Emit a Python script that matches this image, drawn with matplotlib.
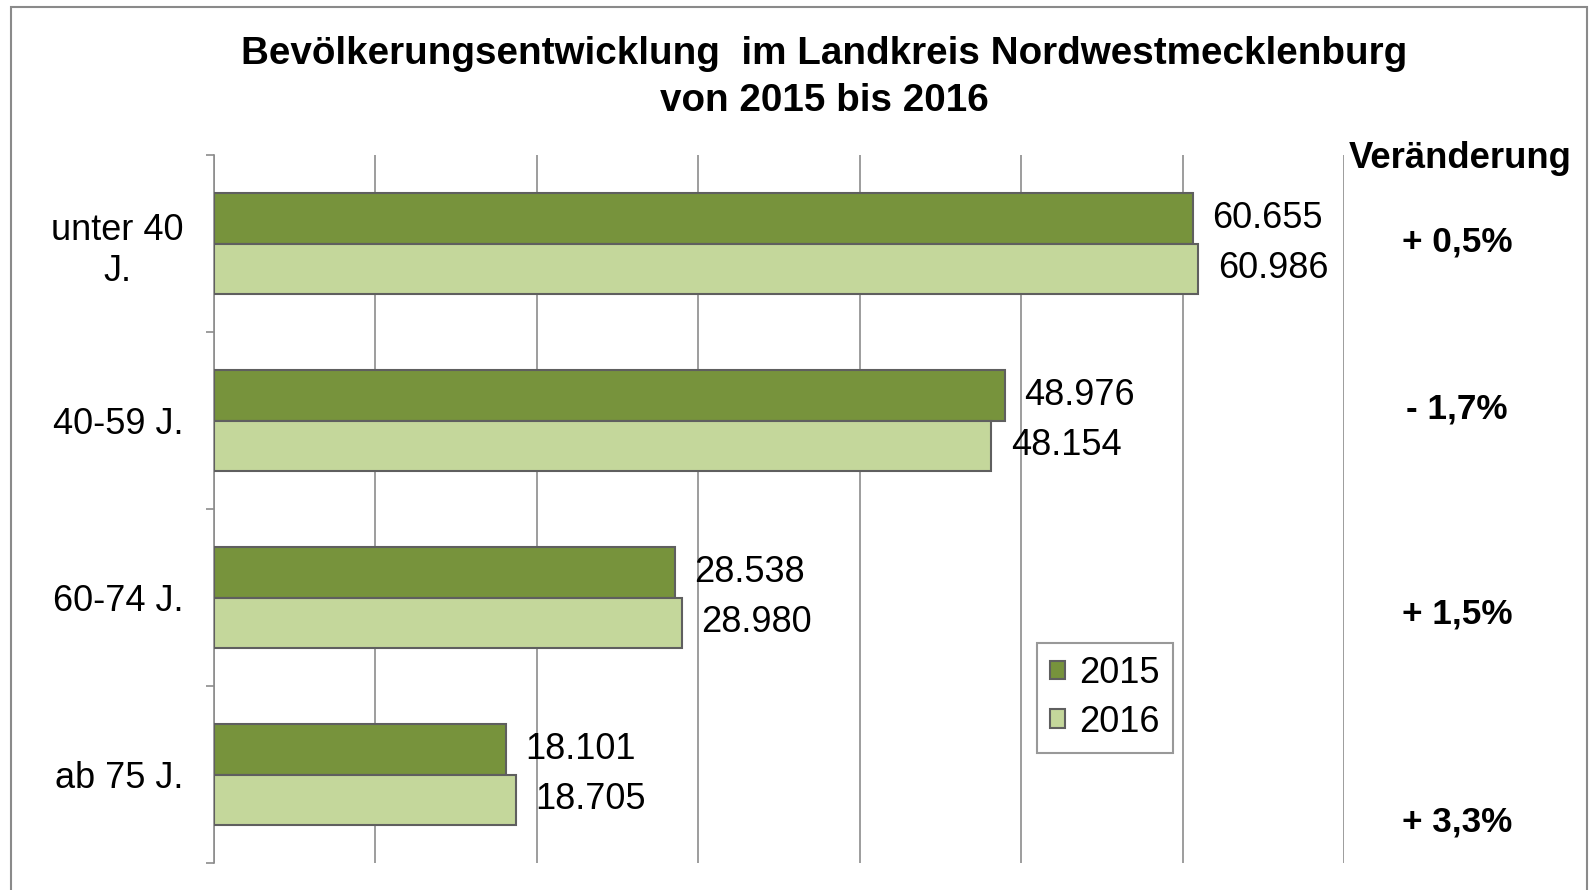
import matplotlib
matplotlib.use("Agg")
import matplotlib.pyplot as plt
from matplotlib.patches import Rectangle
import numpy as np

# ---- data ----
categories = ["unter 40\nJ.", "40-59 J.", "60-74 J.", "ab 75 J."]
series_names = ["2015", "2016"]
values_2015 = [60655, 48976, 28538, 18101]
values_2016 = [60986, 48154, 28980, 18705]
labels_2015 = ["60.655", "48.976", "28.538", "18.101"]
labels_2016 = ["60.986", "48.154", "28.980", "18.705"]
changes = ["+ 0,5%", "- 1,7%", "+ 1,5%", "+ 3,3%"]
title_lines = ["Bevölkerungsentwicklung  im Landkreis Nordwestmecklenburg",
               "von 2015 bis 2016"]
change_header = "Veränderung"

# ---- style ----
W, H = 1590, 890
plt.rcParams['font.family'] = ['Liberation Sans', 'DejaVu Sans']
bold_family = ['Liberation Sans', 'DejaVu Sans']
c2015 = "#77933C"
c2016 = "#C4D79B"
edge = "#5f5f5f"
grid_c = "#8c8c8c"

fig = plt.figure(figsize=(W / 100, H / 100), dpi=100)
fig.patch.set_facecolor("white")

# outer frame
fig.patches.append(Rectangle((11 / W, -0.02), (1587 - 11) / W, 1.02 - 7 / H,
                             transform=fig.transFigure, fill=False,
                             edgecolor="#8a8a8a", linewidth=1.5))

ax_l, ax_r, ax_t, ax_b = 214, 1344, 155, 863
ax = fig.add_axes([ax_l / W, 1 - ax_b / H, (ax_r - ax_l) / W, (ax_b - ax_t) / H])

y = np.arange(len(categories))
h = 0.287
ax.barh(y - h / 2, values_2015, height=h, color=c2015, edgecolor=edge,
        linewidth=1.5, label=series_names[0], zorder=3)
ax.barh(y + h / 2, values_2016, height=h, color=c2016, edgecolor=edge,
        linewidth=1.5, label=series_names[1], zorder=3)

fs = 26
for yi, v, t in zip(y - h / 2, values_2015, labels_2015):
    ax.annotate(t, (v, yi), xytext=(14, 0), textcoords="offset points",
                ha="left", va="center", fontsize=fs, zorder=4)
for yi, v, t in zip(y + h / 2, values_2016, labels_2016):
    ax.annotate(t, (v, yi), xytext=(14, 0), textcoords="offset points",
                ha="left", va="center", fontsize=fs, zorder=4)

ax.set_xlim(0, 70000)
ax.set_ylim(len(categories) - 0.5, -0.5)
ax.set_xticks(np.arange(0, 70001, 10000))
ax.tick_params(axis="x", length=0, labelbottom=False)
ax.grid(axis="x", color=grid_c, linewidth=1.2, zorder=0)
ax.set_yticks(y)
ax.set_yticklabels(categories, fontsize=fs, multialignment="center",
                   linespacing=1.25)
ax.tick_params(axis="y", which="major", length=0, pad=22)
ax.set_yticks(np.arange(-0.5, len(categories), 1.0), minor=True)
ax.tick_params(axis="y", which="minor", length=6, width=1.2, color=grid_c)
for s in ["top", "right", "bottom"]:
    ax.spines[s].set_visible(False)
ax.spines["left"].set_color(grid_c)
ax.spines["left"].set_linewidth(1.2)

leg = ax.legend(loc="upper left", bbox_to_anchor=(1037 / W, 1 - 643 / H),
                bbox_transform=fig.transFigure, fontsize=fs, frameon=True,
                fancybox=False, handlelength=0.42, handleheight=0.42,
                handletextpad=0.4, labelspacing=0.38, borderpad=0.36,
                borderaxespad=0)
leg.get_frame().set_edgecolor("#808080")
leg.get_frame().set_linewidth(1.5)
for p in leg.get_patches():
    p.set_edgecolor(edge)
    p.set_linewidth(1.5)

renderer = fig.canvas.get_renderer()


def fit(txt, target):
    w = txt.get_window_extent(renderer).width
    txt.set_fontsize(txt.get_fontsize() * target / w)


t1 = fig.text(824 / W, 1 - 54 / H, title_lines[0], ha="center", va="center",
              fontsize=20, fontweight="bold", family=bold_family)
fit(t1, 1166)
t2 = fig.text(824 / W, 1 - 101 / H, title_lines[1], ha="center", va="center",
              fontsize=t1.get_fontsize(), fontweight="bold", family=bold_family)

hdr = fig.text(1460 / W, 1 - 158 / H, change_header, ha="center", va="center",
               fontsize=20, fontweight="bold", family=bold_family)
fit(hdr, 223)

pct_y_px = [242, 409, 614, 822]
ptxt = []
for ch, py in zip(changes, pct_y_px):
    ptxt.append(fig.text(1457 / W, 1 - py / H, ch, ha="center", va="center",
                         fontsize=20, fontweight="bold", family=bold_family))
w0 = ptxt[0].get_window_extent(renderer).width
for p in ptxt:
    p.set_fontsize(20 * 110.5 / w0)

fig.savefig("out.png", dpi=100)
